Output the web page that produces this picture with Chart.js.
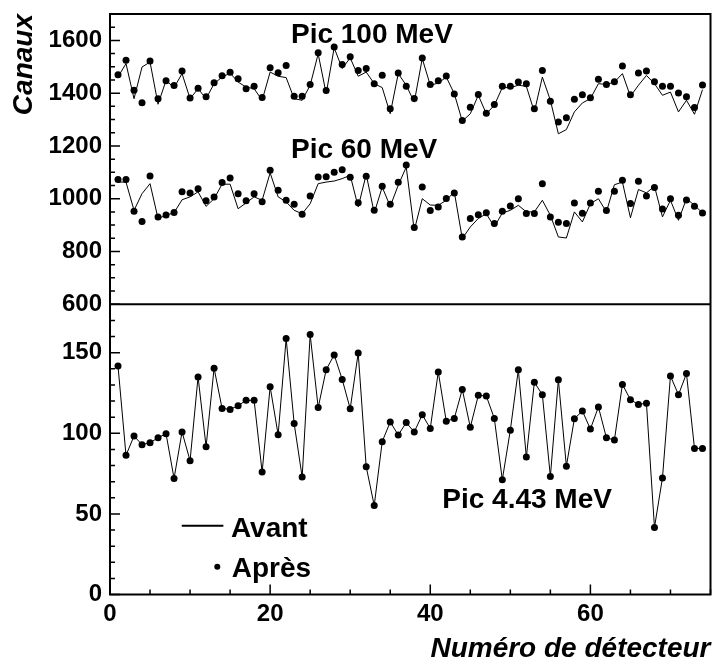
<!DOCTYPE html>
<html><head><meta charset="utf-8">
<script src="https://cdn.jsdelivr.net/npm/chart.js@4.4.1/dist/chart.umd.min.js"></script>
<style>html,body{margin:0;padding:0;background:#fff;overflow:hidden}#wrap{width:715px;height:666px}canvas{display:block}</style>
</head><body><div id="wrap"><canvas id="c" width="715" height="666"></canvas></div>
<script>
// ---- data ----
const detectors = [1,2,3,4,5,6,7,8,9,10,11,12,13,14,15,16,17,18,19,20,21,22,23,24,25,26,27,28,29,30,31,32,33,34,35,36,37,38,39,40,41,42,43,44,45,46,47,48,49,50,51,52,53,54,55,56,57,58,59,60,61,62,63,64,65,66,67,68,69,70,71,72,73,74];

const avant100 = [1462,1512,1379,1499,1518,1358,1448,1421,1474,1379,1417,1379,1436,1461,1476,1442,1423,1417,1373,1480,1464,1459,1379,1373,1430,1549,1398,1572,1493,1534,1464,1480,1436,1421,1322,1474,1430,1366,1531,1430,1438,1461,1398,1294,1322,1392,1322,1354,1421,1421,1430,1426,1329,1461,1373,1246,1262,1329,1363,1379,1436,1433,1442,1474,1388,1430,1467,1436,1392,1404,1329,1373,1320,1413];
const apres100 = [1470,1525,1411,1364,1522,1379,1447,1429,1484,1382,1419,1386,1439,1466,1479,1455,1417,1426,1384,1496,1477,1505,1388,1388,1433,1553,1410,1575,1509,1538,1486,1493,1436,1468,1341,1476,1426,1380,1533,1433,1447,1465,1397,1296,1347,1395,1324,1357,1426,1426,1442,1436,1341,1486,1369,1291,1307,1377,1394,1383,1453,1433,1443,1503,1394,1476,1484,1443,1426,1426,1401,1386,1346,1431];

const avant60 = [1063,1063,956,1019,1057,925,937,947,996,1007,1026,971,1000,1055,1055,962,984,1007,994,1098,1007,988,956,943,981,1057,1063,1067,1076,1089,969,1092,946,1044,971,1051,1120,880,1000,976,975,994,1026,849,893,925,943,893,946,956,975,950,950,994,937,855,851,950,912,981,1000,950,1053,1063,928,1035,1022,1047,931,994,918,1000,975,946];
const apres60 = [1073,1073,952,914,1086,931,938,948,1026,1022,1038,992,1006,1061,1078,1019,992,1019,988,1108,1032,994,979,941,1010,1082,1083,1100,1110,1081,985,1085,956,1047,979,1062,1128,891,1044,955,969,1001,1022,855,925,939,947,906,952,972,1000,944,944,1057,931,911,906,984,945,984,1028,955,1028,1070,982,1066,1010,1042,961,1000,937,995,971,946];

// 4.43 MeV peak: "Avant" and "Après" coincide
const pic443 = [141.7,86.3,98.3,92.9,94.1,97.2,99.7,72.0,100.8,83.0,134.9,91.7,140.3,115.4,114.8,117.1,120.4,120.4,75.9,128.9,99.1,158.7,106.1,72.8,161.2,115.9,139.4,148.6,133.4,115.2,149.8,79.2,55.2,94.8,107.0,98.9,106.6,100.8,111.5,103.0,138.0,107.4,109.2,127.2,103.7,123.5,123.1,109.2,71.2,101.9,139.4,85.2,131.6,123.9,73.2,133.2,79.6,109.0,113.8,102.6,116.3,97.2,95.8,130.3,120.8,117.9,118.6,41.6,72.2,135.5,123.9,137.0,90.6,90.6];

const xTicks = [0,20,40,60];
const yTopTicks = [600,800,1000,1200,1400,1600];
const yBotTicks = [0,50,100,150];
const seriesNames = ['Avant','Après'];
const peakNames = ['Pic 100 MeV','Pic 60 MeV','Pic 4.43 MeV'];

// ---- rendering ----
const FONT = '"Liberation Sans", Arial, Helvetica, sans-serif';
function pts(vals){ return detectors.map((d,i)=>({x:d, y:vals[i]})); }
function lineDs(vals, axis){ return {label:seriesNames[0], data:pts(vals), yAxisID:axis, borderColor:'#000', borderWidth:1, pointRadius:0, fill:false, tension:0}; }
function dotDs(vals, axis, r){ return {label:seriesNames[1], data:pts(vals), yAxisID:axis, showLine:false, borderColor:'#000', backgroundColor:'#000', pointBackgroundColor:'#000', pointBorderColor:'#000', pointBorderWidth:0, pointRadius:r}; }

const overlay = {
  id:'overlay',
  afterDatasetsDraw(chart){
    const {ctx, chartArea:a, scales} = chart;
    const x = scales.x, yT = scales.yTop, yB = scales.yBot;
    ctx.save();
    ctx.strokeStyle = '#000';
    ctx.lineWidth = 1.5;
    ctx.beginPath();
    for (let v = 600; v <= 1700; v += 50) {
      const p = yT.getPixelForValue(v); const len = (v % 200 === 0) ? 10 : 5;
      ctx.moveTo(a.left, p); ctx.lineTo(a.left + len, p);
    }
    for (let v = 0; v <= 180; v += 10) {
      const p = yB.getPixelForValue(v); const len = (v % 50 === 0) ? 10 : 5;
      ctx.moveTo(a.left, p); ctx.lineTo(a.left + len, p);
    }
    for (let v = 0; v <= 75; v += 5) {
      const p = x.getPixelForValue(v); const len = (v % 20 === 0) ? 10 : 5;
      ctx.moveTo(p, a.bottom); ctx.lineTo(p, a.bottom - len);
    }
    ctx.stroke();
    ctx.lineWidth = 2;
    ctx.strokeRect(a.left, a.top, a.right - a.left, a.bottom - a.top);
    ctx.beginPath();
    ctx.moveTo(a.left, yT.bottom); ctx.lineTo(a.right, yT.bottom);
    ctx.stroke();

    // peak labels
    ctx.fillStyle = '#000';
    ctx.font = 'bold 28px ' + FONT;
    ctx.textBaseline = 'alphabetic';
    ctx.textAlign = 'left';
    ctx.fillText(peakNames[0], x.getPixelForValue(22.6), yT.getPixelForValue(1590));
    ctx.fillText(peakNames[1], x.getPixelForValue(22.6), yT.getPixelForValue(1154));
    ctx.fillText(peakNames[2], x.getPixelForValue(41.5), yB.getPixelForValue(53.6));

    // legend
    ctx.lineWidth = 2;
    ctx.beginPath();
    ctx.moveTo(x.getPixelForValue(8.96), yB.getPixelForValue(42.7));
    ctx.lineTo(x.getPixelForValue(14.16), yB.getPixelForValue(42.7));
    ctx.stroke();
    ctx.fillText(seriesNames[0], x.getPixelForValue(15.1), yB.getPixelForValue(35.7));
    ctx.beginPath();
    ctx.arc(x.getPixelForValue(13.4), yB.getPixelForValue(17.2), 3, 0, Math.PI*2);
    ctx.fill();
    ctx.fillText(seriesNames[1], x.getPixelForValue(15.2), yB.getPixelForValue(10.9));
    ctx.restore();
  }
};

const tickFont = {family: FONT, size: 24, weight: 'bold'};
const plain = v => String(v);
function fixY(w){ return s => { s.width = w; s.paddingTop = 0; s.paddingBottom = 0; }; }

new Chart(document.getElementById('c'), {
  type: 'line',
  data: { datasets: [
    lineDs(avant100, 'yTop'), dotDs(apres100, 'yTop', 3.5),
    lineDs(avant60, 'yTop'), dotDs(apres60, 'yTop', 3.5),
    lineDs(pic443, 'yBot'), dotDs(pic443, 'yBot', 3.5)
  ]},
  options: {
    responsive: false, animation: false, devicePixelRatio: 1,
    layout: {padding: {top: 14, right: 4.5, left: 0, bottom: 0}},
    plugins: {legend: {display: false}, tooltip: {enabled: false}},
    scales: {
      x: {
        type: 'linear', position: 'bottom', min: 0, max: 75,
        grid: {display: false, drawTicks: false}, border: {display: false},
        ticks: {font: tickFont, color: '#000', padding: 5, maxRotation: 0, autoSkip: false, callback: plain},
        afterBuildTicks: s => { s.ticks = xTicks.map(v => ({value: v})); },
        afterFit: s => { s.height = 71.5; s.paddingLeft = 0; s.paddingRight = 0; },
        title: {display: true, text: 'Numéro de détecteur', align: 'end', color: '#000',
                font: {family: FONT, size: 28, weight: 'bold', style: 'italic'}, padding: {top: 0, bottom: 0}}
      },
      yBot: {
        type: 'linear', position: 'left', stack: 'panels', stackWeight: 1, min: 0, max: 180,
        grid: {display: false, drawTicks: false}, border: {display: false},
        ticks: {font: tickFont, color: '#000', padding: 8, autoSkip: false, callback: plain},
        afterBuildTicks: s => { s.ticks = yBotTicks.map(v => ({value: v})); },
        afterFit: fixY(110)
      },
      yTop: {
        type: 'linear', position: 'left', stack: 'panels', stackWeight: 1, min: 600, max: 1700,
        grid: {display: false, drawTicks: false}, border: {display: false},
        ticks: {font: tickFont, color: '#000', padding: 8, autoSkip: false, callback: plain},
        afterBuildTicks: s => { s.ticks = yTopTicks.map(v => ({value: v})); },
        afterFit: fixY(110),
        title: {display: true, text: 'Canaux', align: 'end', color: '#000',
                font: {family: FONT, size: 28, weight: 'bold', style: 'italic'}, padding: {top: 7, bottom: 0}}
      }
    }
  },
  plugins: [overlay]
});
</script>
</body></html>
